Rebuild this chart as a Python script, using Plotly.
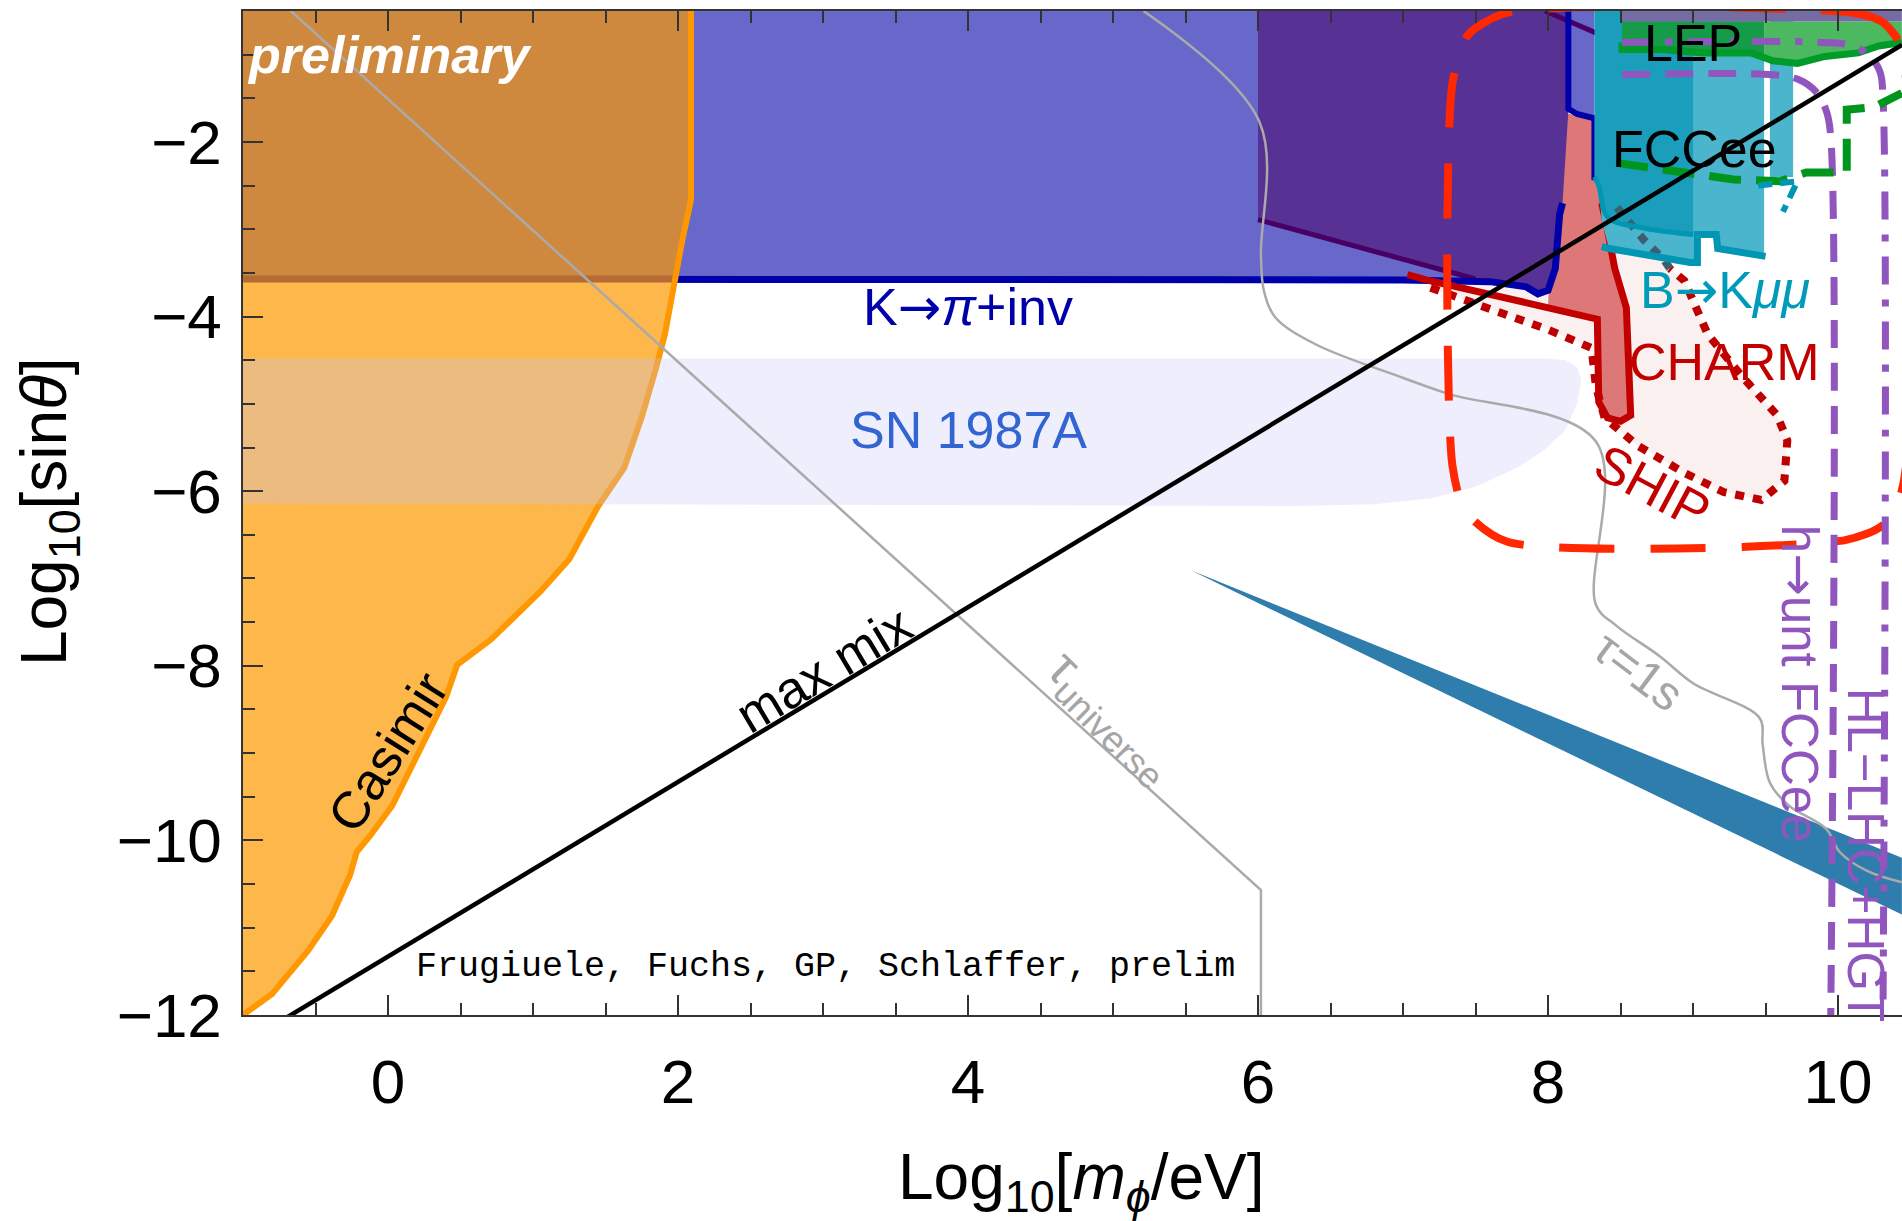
import plotly.graph_objects as go

FONT = "Liberation Sans, Arial, sans-serif"
ARROW = '<span style="font-family:DejaVu Sans">\u2192</span>'

# ---------------- axis ticks ----------------
x_tickvals = [0, 2, 4, 6, 8, 10]
x_ticktext = ["0", "2", "4", "6", "8", "10"]
y_tickvals = [-12, -10, -8, -6, -4, -2]
y_ticktext = ["\u221212", "\u221210", "\u22128", "\u22126", "\u22124", "\u22122"]

# ---------------- regions / curves (log10 m [eV], log10 sin theta) ----------------
casimir_x = [2.09, 2.09, 2.03, 1.97, 1.91, 1.85, 1.75, 1.63, 1.45, 1.25, 1.05, 0.71, 0.477,
             0.40, 0.03, -0.12, -0.215, -0.26, -0.385, -0.55, -0.8, -1.0]
casimir_y = [-0.5, -2.66, -3.12, -3.62, -4.2, -4.58, -5.15, -5.73, -6.17, -6.78, -7.15, -7.70,
             -7.99, -8.36, -9.60, -9.94, -10.13, -10.39, -10.86, -11.26, -11.76, -12.0]

overlap_x = [-1.0, 2.09, 2.09, 2.03, 1.99, -1.0]
overlap_y = [-0.5, -0.5, -2.66, -3.12, -3.57, -3.57]

kpi_fill_x = [1.9, 8.32, 8.32, 8.14, 8.1, 8.05, 8.0, 7.93, 7.85, 7.6, 7.0, 1.9]
kpi_fill_y = [-0.5, -0.5, -1.73, -1.65, -2.7, -3.45, -3.7, -3.77, -3.65, -3.6, -3.58, -3.57]
kpi_line_x = [-1.0, 1.99, 5.0, 7.0, 7.6, 7.85, 7.93, 8.0, 8.05, 8.08, 8.1]
kpi_line_y = [-3.57, -3.57, -3.57, -3.58, -3.6, -3.66, -3.74, -3.7, -3.45, -2.83, -2.7]
kpi_line2_x = [8.14, 8.14, 8.2, 8.32, 8.32]
kpi_line2_y = [-0.5, -1.62, -1.68, -1.73, -2.44]

dark_x = [6.0, 8.14, 8.14, 8.1, 8.05, 8.0, 7.93, 7.5, 7.0, 6.0]
dark_y = [-0.5, -0.5, -1.65, -2.7, -3.45, -3.65, -3.72, -3.58, -3.35, -2.89]
dark_line_x = [6.0, 7.0, 7.5]
dark_line_y = [-2.89, -3.35, -3.57]
dark_line2_x = [7.98, 8.33]
dark_line2_y = [-0.5, -0.75]

charm_fill_x = [8.05, 8.32, 8.32, 8.36, 8.41, 8.46, 8.54, 8.57, 8.5, 8.41, 8.35, 8.34, 8.0]
charm_fill_y = [-1.65, -1.73, -2.4, -2.6, -3.01, -3.45, -3.9, -5.13, -5.2, -5.16, -4.98, -4.03, -3.9]
charm_line_x = [7.03, 7.16, 7.95, 8.34, 8.35, 8.41, 8.5, 8.57, 8.54, 8.46, 8.41, 8.37]
charm_line_y = [-3.52, -3.58, -3.88, -4.03, -4.98, -5.16, -5.2, -5.13, -3.9, -3.45, -3.01, -2.7]

ship_x = [7.19, 7.6, 8.0, 8.30, 8.33, 8.39, 8.62, 8.94, 9.21, 9.47, 9.63, 9.65, 9.58, 9.34,
          9.10, 8.94, 8.84]
ship_y = [-3.67, -3.92, -4.15, -4.36, -4.8, -5.16, -5.48, -5.79, -6.01, -6.10, -5.88, -5.42,
          -5.13, -4.69, -4.20, -3.59, -3.45]
ship_hidden_x = [8.84, 8.80, 8.66, 8.54, 8.45]
ship_hidden_y = [-3.45, -3.35, -3.12, -2.89, -2.7]

bkmm_light_x = [8.9, 9.49, 9.49, 9.17, 9.16, 9.04, 9.03, 8.98, 8.42, 8.37, 8.35]
bkmm_light_y = [-0.5, -0.5, -3.31, -3.22, -3.06, -3.06, -3.38, -3.38, -3.22, -2.9, -2.45]
bkmm_dark_x = [8.32, 9.0, 9.0, 8.64, 8.41, 8.35, 8.32]
bkmm_dark_y = [-0.5, -0.5, -3.06, -2.98, -2.86, -2.5, -2.4]
bkmm_strip_x = [9.53, 9.69, 9.69, 9.53]
bkmm_strip_y = [-0.5, -0.5, -2.4, -2.4]
bkmm_edge_x = [8.32, 8.35, 8.41, 8.64, 9.0]
bkmm_edge_y = [-2.4, -2.5, -2.86, -2.98, -3.06]
bkmm_bottom_x = [8.37, 8.42, 8.98, 9.03, 9.03, 9.16, 9.17, 9.5]
bkmm_bottom_y = [-3.2, -3.22, -3.38, -3.38, -3.06, -3.06, -3.22, -3.31]
bkmm_fut_x = [9.45, 9.72, 9.62]
bkmm_fut_y = [-2.5, -2.45, -2.8]

lep_dark_x = [8.51, 9.49, 9.49, 9.4, 9.07, 8.79, 8.51]
lep_dark_y = [-0.62, -0.62, -1.06, -0.98, -0.98, -0.94, -0.94]
lep_light_x = [9.49, 10.44, 10.44, 10.28, 10.14, 9.91, 9.72, 9.49]
lep_light_y = [-0.62, -0.62, -0.86, -0.90, -0.98, -1.02, -1.10, -1.06]
lep_line_x = [8.51, 8.51, 8.79, 9.07, 9.40, 9.55, 9.72, 9.91, 10.14, 10.28, 10.44]
lep_line_y = [-0.86, -0.94, -0.94, -0.98, -0.98, -1.07, -1.10, -1.02, -0.98, -0.90, -0.86]
top_band_x = [8.51, 10.44, 10.44, 8.51]
top_band_y = [-0.5, -0.5, -0.62, -0.62]

fcc_x = [8.47, 8.93, 9.28, 9.6, 9.78, 10.06, 10.06, 10.25, 10.44]
fcc_y = [-2.24, -2.35, -2.43, -2.45, -2.35, -2.35, -1.63, -1.6, -1.44]

sn_x = [-1.0, 8.0, 8.12, 8.2, 8.23, 8.2, 8.12, 7.98, 7.8, 7.5, 7.2, 6.8, 6.29, -1.0]
sn_y = [-4.48, -4.48, -4.5, -4.58, -4.73, -5.0, -5.3, -5.52, -5.72, -5.95, -6.08, -6.15,
        -6.17, -6.14]

wedge_x = [5.54, 10.44, 10.44]
wedge_y = [-6.91, -10.2, -10.85]

maxmix_x = [-1.0, 10.44]
maxmix_y = [-12.33, -0.89]

tau_univ_x = [-0.67, 6.02, 6.02]
tau_univ_y = [-0.5, -10.57, -12.0]

tau_1s_x = [5.21, 6.01, 6.02, 6.04, 6.12, 6.40, 6.98, 7.30, 8.33, 8.33, 8.47, 8.77, 9.0, 9.46,
            9.48, 9.53, 9.66, 9.92, 10.01, 10.2, 10.44]
tau_1s_y = [-0.5, -1.77, -3.3, -3.7, -4.01, -4.32, -4.69, -4.88, -5.43, -7.3, -7.54, -7.89,
            -8.2, -8.6, -8.9, -9.34, -9.6, -9.87, -10.13, -10.35, -10.48]

redbox_x = [7.72, 10.1, 10.3, 10.42, 10.47, 10.47, 10.42, 10.3, 10.05, 7.72, 7.43, 7.34,
            7.34, 7.45, 7.72]
redbox_y = [-0.52, -0.52, -0.62, -0.85, -1.3, -5.7, -6.1, -6.4, -6.56, -6.58, -6.23, -5.7,
            -1.34, -0.77, -0.52]

hunt_x = [8.51, 9.55, 9.72, 9.85, 9.92, 9.95, 9.95]
hunt_y = [-1.23, -1.23, -1.28, -1.43, -1.65, -1.95, -12.0]
hllhc_x = [8.51, 9.9, 10.1, 10.22, 10.29, 10.31, 10.31]
hllhc_y = [-0.86, -0.86, -0.9, -1.02, -1.2, -1.5, -12.0]

fig = go.Figure()


def fill(xs, ys, color):
    fig.add_trace(go.Scatter(x=xs, y=ys, mode="lines", fill="toself", fillcolor=color,
                             line=dict(width=0, color=color), hoverinfo="skip",
                             showlegend=False))


def line(xs, ys, color, width, dash="solid", shape="linear", smoothing=1.0):
    fig.add_trace(go.Scatter(x=xs, y=ys, mode="lines",
                             line=dict(color=color, width=width, dash=dash, shape=shape,
                                       smoothing=smoothing if shape == "spline" else None),
                             hoverinfo="skip", showlegend=False))


fill(kpi_fill_x, kpi_fill_y, "rgb(104,104,202)")
fill(ship_x + ship_hidden_x + [8.3, 8.0, 7.19], ship_y + ship_hidden_y + [-2.5, -3.6, -3.6],
     "rgb(250,240,240)")
fill(charm_fill_x, charm_fill_y, "rgb(222,120,120)")
fill(dark_x, dark_y, "rgb(87,50,148)")
line(dark_line_x, dark_line_y, "rgb(72,0,100)", 5)
line(dark_line2_x, dark_line2_y, "rgb(72,0,100)", 5)
line(kpi_line_x, kpi_line_y, "rgb(0,0,170)", 7)
line(kpi_line2_x, kpi_line2_y, "rgb(0,0,170)", 6)
line(charm_line_x, charm_line_y, "rgb(195,0,0)", 7)
line(ship_x, ship_y, "rgb(190,0,0)", 8, dash="9px,9px")
fill(bkmm_light_x, bkmm_light_y, "rgb(75,181,205)")
fill(bkmm_dark_x, bkmm_dark_y, "rgb(26,158,188)")
fill(bkmm_strip_x, bkmm_strip_y, "rgb(75,181,205)")
line(ship_hidden_x, ship_hidden_y, "rgb(60,95,115)", 8, dash="9px,9px")
line(bkmm_edge_x, bkmm_edge_y, "rgb(0,150,180)", 5, shape="spline")
line(bkmm_bottom_x, bkmm_bottom_y, "rgb(0,150,180)", 7)
fill(lep_dark_x, lep_dark_y, "rgb(22,156,72)")
fill(lep_light_x, lep_light_y, "rgb(76,184,96)")
fill(top_band_x, top_band_y, "rgb(116,108,162)")
line(lep_line_x, lep_line_y, "rgb(0,155,40)", 7)

# Casimir
fill([-1.0] + casimir_x, [-0.5] + casimir_y, "rgb(253,183,75)")
fill(overlap_x, overlap_y, "rgb(206,137,63)")
line([-1.0, 1.99], [-3.57, -3.57], "rgb(181,107,51)", 7)
line(casimir_x, casimir_y, "rgb(255,152,0)", 6)

# SN 1987A
fill(sn_x, sn_y, "rgba(200,200,250,0.3)")

# blue wedge
fill(wedge_x, wedge_y, "rgb(46,125,172)")

# gray lifetime lines
line(tau_univ_x, tau_univ_y, "rgb(170,170,170)", 2.5)
line(tau_1s_x, tau_1s_y, "rgb(170,170,170)", 2.5, shape="spline")

# future projections
line(redbox_x, redbox_y, "rgb(255,40,0)", 8, dash="55px,36px", shape="spline", smoothing=0.7)
line(hunt_x, hunt_y, "rgb(145,85,190)", 7, dash="28px,15px", shape="spline")
line(hllhc_x, hllhc_y, "rgb(145,85,190)", 7, dash="28px,15px,7px,15px", shape="spline")
line(fcc_x, fcc_y, "rgb(0,150,30)", 8, dash="32px,15px")
line(bkmm_fut_x, bkmm_fut_y, "rgb(0,150,180)", 6, dash="14px,8px")

# max mixing
line(maxmix_x, maxmix_y, "black", 4.5)

ann = []


def label(x, y, text, color="black", size=52, angle=0, family=FONT, **kw):
    ann.append(dict(x=x, y=y, xref="x", yref="y", text=text, showarrow=False,
                    textangle=angle, font=dict(family=family, size=size, color=color),
                    xanchor=kw.get("xanchor", "center"), yanchor="middle"))


label(-0.985, -1.0, "<b><i>preliminary</i></b>", color="white", size=52, xanchor="left")
label(4.0, -3.89, "K" + ARROW + "<i>\u03c0</i>+inv", color="rgb(0,0,170)")
label(4.0, -5.30, "SN 1987A", color="rgb(50,100,210)")
label(0.0, -8.99, "Casimir", angle=-57.7)
label(3.01, -8.04, "max mix", angle=-31)
label(4.98, -8.6, "\u03c4<sub>universe</sub>", color="rgb(165,165,165)", size=52, angle=45)
label(8.63, -8.06, "\u03c4=1s", color="rgb(165,165,165)", size=48, angle=37)
label(9.0, -0.87, "LEP")
label(9.01, -2.08, "FCCee")
label(9.22, -3.69, "B" + ARROW + "K<i>\u03bc\u03bc</i>", color="rgb(0,155,185)")
label(9.22, -4.52, "CHARM", color="rgb(195,0,0)")
label(8.72, -5.95, "SHIP", color="rgb(195,0,0)", angle=28)
label(9.74, -8.21, "h" + ARROW + "unt FCCee", color="rgb(145,85,190)", size=51, angle=90)
label(10.19, -10.16, "HL\u2212LHC+HGT", color="rgb(145,85,190)", size=51, angle=90)
label(3.02, -11.45, "Frugiuele, Fuchs, GP, Schlaffer, prelim", size=35,
      family="Liberation Mono, Courier New, monospace")

ann.append(dict(x=0.505, y=-0.165, xref="paper", yref="paper", showarrow=False,
                text="Log<sub>10</sub>[<i>m</i><sub><i>\u03d5</i></sub>/eV]",
                font=dict(family=FONT, size=64, color="black"),
                xanchor="center", yanchor="middle"))
ann.append(dict(x=-0.1175, y=0.501, xref="paper", yref="paper", showarrow=False,
                text="Log<sub>10</sub>[sin<i>\u03b8</i>]", textangle=-90,
                font=dict(family=FONT, size=64, color="black"),
                xanchor="center", yanchor="middle"))

axis_common = dict(showgrid=False, zeroline=False, ticks="inside", ticklen=20, tickwidth=1.5,
                   tickcolor="#333", showline=True, linecolor="#333", linewidth=1.5,
                   tickfont=dict(family=FONT, size=62, color="black"))

fig.update_layout(
    width=1902, height=1221, autosize=False,
    margin=dict(l=243, r=0, t=11, b=206, pad=0),
    paper_bgcolor="white", plot_bgcolor="white",
    showlegend=False,
    xaxis=dict(range=[-1, 10.441], tickvals=x_tickvals, ticktext=x_ticktext, mirror="ticks",
               minor=dict(dtick=0.5, tick0=0, ticks="inside", ticklen=12, tickwidth=1.5,
                          tickcolor="#333", showgrid=False),
               ticklabelstandoff=12, **axis_common),
    yaxis=dict(range=[-12, -0.5], tickvals=y_tickvals, ticktext=y_ticktext, mirror=False,
               minor=dict(dtick=0.5, tick0=0, ticks="inside", ticklen=12, tickwidth=1.5,
                          tickcolor="#333", showgrid=False),
               ticklabelstandoff=7, **axis_common),
    annotations=ann,
)

fig.write_html("out.html")
